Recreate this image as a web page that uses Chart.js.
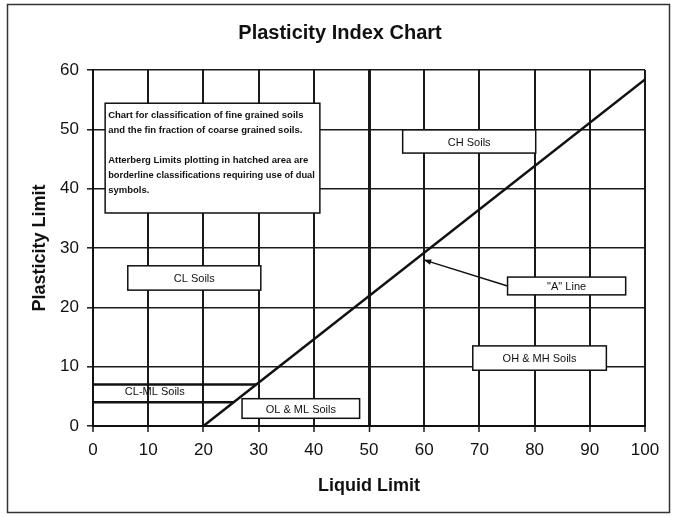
<!DOCTYPE html>
<html>
<head>
<meta charset="utf-8">
<title>Plasticity Index Chart</title>
<script src="https://cdn.jsdelivr.net/npm/chart.js@4.4.1/dist/chart.umd.min.js"></script>
<style>
  html, body { margin: 0; padding: 0; background: #fff; }
  #wrap { position: relative; width: 675px; height: 517px; }
</style>
</head>
<body>
<div id="wrap"><canvas id="plasticityChart"></canvas></div>
<script>
// axis ranges (tick labels every 10)
const liquidLimitRange = [0, 100];
const plasticityRange = [0, 60];
const tickStep = 10;

// "A" line, PI = 0.73 (LL - 20)
const aLineLL = [20, 100];
const aLinePI = [0, 58.4];

// hatched CL-ML band
const bandTopLL = [0, 29.6];
const bandTopPI = [7, 7];
const bandBottomLL = [0, 25.5];
const bandBottomPI = [4, 4];

const zoneNames = ["CH Soils", "CL Soils", "\"A\" Line", "OH & MH Soils", "OL & ML Soils"];
const bandName = "CL-ML Soils";
const noteLines = [
  "Chart for classification of fine grained soils",
  "and the fin fraction of coarse grained soils.",
  "",
  "Atterberg Limits plotting in hatched area are",
  "borderline classifications requiring use of dual",
  "symbols."
];

// where the labels sit, in axis units: [LL left, LL right, PI top, PI bottom]
const zoneBoxes = [
  [56.1, 80.2, 49.9, 46.0],
  [6.3, 30.4, 27.0, 22.9],
  [75.1, 96.5, 25.1, 22.1],
  [68.8, 93.0, 13.5, 9.4],
  [27.0, 48.3, 4.6, 1.3]
];
const noteBox = [2.2, 41.1, 54.4, 35.9];
const bandLabelAt = [11.2, 5.8];
const arrowTip = [59.9, 28.0];

function toPoints(xs, ys) {
  return xs.map((x, i) => ({ x: x, y: ys[i] }));
}

// white page, outer frame, text boxes and the arrow
const soilLabels = {
  id: "soilLabels",
  beforeDraw(chart) {
    const ctx = chart.ctx;
    ctx.save();
    ctx.fillStyle = "#fff";
    ctx.fillRect(0, 0, chart.width, chart.height);
    ctx.strokeStyle = "#333";
    ctx.lineWidth = 1.5;
    ctx.strokeRect(7.5, 4.5, 662, 508);
    ctx.restore();
  },
  afterDatasetsDraw(chart) {
    const { ctx, scales: { x, y } } = chart;
    ctx.save();

    function box(b) {
      const l = x.getPixelForValue(b[0]);
      const r = x.getPixelForValue(b[1]);
      const t = y.getPixelForValue(b[2]);
      const bt = y.getPixelForValue(b[3]);
      ctx.fillStyle = "#fff";
      ctx.fillRect(l, t, r - l, bt - t);
      ctx.strokeStyle = "#111";
      ctx.lineWidth = 1.5;
      ctx.strokeRect(l, t, r - l, bt - t);
      return { l, r, t, bt };
    }

    // zone labels
    ctx.font = "11px 'Liberation Sans', Arial, sans-serif";
    ctx.textAlign = "center";
    ctx.textBaseline = "middle";
    zoneBoxes.forEach((b, i) => {
      const p = box(b);
      ctx.fillStyle = "#111";
      ctx.fillText(zoneNames[i], (p.l + p.r) / 2, (p.t + p.bt) / 2 + 1);
    });

    ctx.fillText(bandName, x.getPixelForValue(bandLabelAt[0]), y.getPixelForValue(bandLabelAt[1]));

    // arrow from the "A" Line box to the line
    const from = zoneBoxes[2];
    const ax = x.getPixelForValue(from[0]);
    const ay = y.getPixelForValue((from[2] + from[3]) / 2);
    const tx = x.getPixelForValue(arrowTip[0]);
    const ty = y.getPixelForValue(arrowTip[1]);
    ctx.strokeStyle = "#111";
    ctx.lineWidth = 1.5;
    ctx.beginPath();
    ctx.moveTo(ax, ay);
    ctx.lineTo(tx, ty);
    ctx.stroke();
    const ang = Math.atan2(ty - ay, tx - ax);
    ctx.fillStyle = "#111";
    ctx.beginPath();
    ctx.moveTo(tx, ty);
    ctx.lineTo(tx - 8 * Math.cos(ang - 0.35), ty - 8 * Math.sin(ang - 0.35));
    ctx.lineTo(tx - 8 * Math.cos(ang + 0.35), ty - 8 * Math.sin(ang + 0.35));
    ctx.closePath();
    ctx.fill();

    // note box
    const n = box(noteBox);
    ctx.font = "bold 9.5px 'Liberation Sans', Arial, sans-serif";
    ctx.textAlign = "left";
    ctx.fillStyle = "#111";
    noteLines.forEach((line, i) => {
      if (line) ctx.fillText(line, n.l + 3, n.t + 12 + i * 15, n.r - n.l - 8);
    });

    ctx.restore();
  }
};

const lineStyle = {
  borderColor: "#111",
  borderWidth: 2.5,
  pointRadius: 0,
  showLine: true,
  fill: false
};

new Chart(document.getElementById("plasticityChart"), {
  type: "scatter",
  data: {
    datasets: [
      Object.assign({ label: "A Line", data: toPoints(aLineLL, aLinePI) }, lineStyle),
      Object.assign({ label: "CL-ML top", data: toPoints(bandTopLL, bandTopPI) }, lineStyle),
      Object.assign({ label: "CL-ML bottom", data: toPoints(bandBottomLL, bandBottomPI) }, lineStyle)
    ]
  },
  options: {
    responsive: true,
    maintainAspectRatio: false,
    animation: false,
    // left padding keeps the title centred on the page like the scan
    layout: { padding: { left: 35, right: 30, top: 0, bottom: 0 } },
    plugins: {
      legend: { display: false },
      tooltip: { enabled: false },
      title: {
        display: true,
        text: "Plasticity Index Chart",
        color: "#111",
        font: { family: "'Liberation Sans', Arial, sans-serif", size: 20, weight: "bold" },
        padding: { top: 21, bottom: 25 }
      }
    },
    scales: {
      x: {
        type: "linear",
        min: liquidLimitRange[0],
        max: liquidLimitRange[1],
        afterFit: (scale) => { scale.height = 91; },
        ticks: {
          stepSize: tickStep,
          color: "#111",
          padding: 8,
          font: { family: "'Liberation Sans', Arial, sans-serif", size: 17 }
        },
        grid: {
          color: "#1a1a1a",
          lineWidth: (c) => (c.tick && c.tick.value === 50 ? 3 : 2),
          tickLength: 6,
          tickColor: "#1a1a1a",
          tickWidth: 1.5
        },
        border: { color: "#111", width: 2 },
        title: {
          display: true,
          text: "Liquid Limit",
          color: "#111",
          font: { family: "'Liberation Sans', Arial, sans-serif", size: 18, weight: "bold" },
          padding: { top: 0, bottom: 20 }
        }
      },
      y: {
        type: "linear",
        min: plasticityRange[0],
        max: plasticityRange[1],
        afterFit: (scale) => { scale.width = 58; },
        ticks: {
          stepSize: tickStep,
          color: "#111",
          padding: 8,
          font: { family: "'Liberation Sans', Arial, sans-serif", size: 17 }
        },
        grid: {
          color: "#1a1a1a",
          lineWidth: 1.6,
          tickLength: 6,
          tickColor: "#1a1a1a",
          tickWidth: 1.5
        },
        border: { color: "#111", width: 2 },
        title: {
          display: true,
          text: "Plasticity Limit",
          color: "#111",
          font: { family: "'Liberation Sans', Arial, sans-serif", size: 18, weight: "bold" },
          padding: { top: -6, bottom: 0 }
        }
      }
    }
  },
  plugins: [soilLabels]
});
</script>
</body>
</html>
